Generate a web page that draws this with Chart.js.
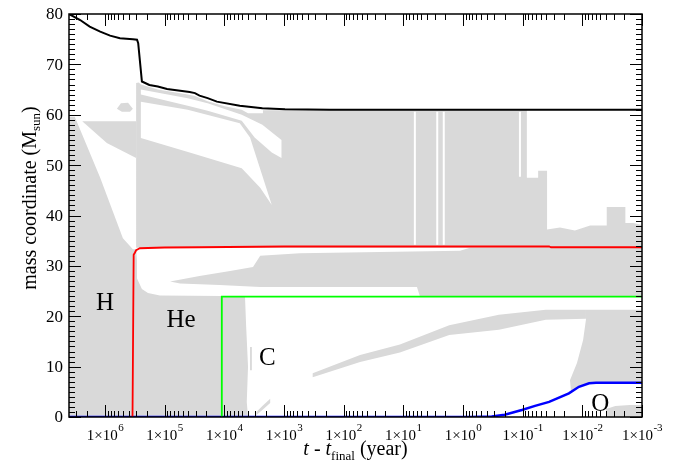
<!DOCTYPE html>
<html>
<head>
<meta charset="utf-8">
<title>Kippenhahn diagram</title>
<script src="https://cdn.jsdelivr.net/npm/chart.js@4.4.1/dist/chart.umd.min.js"></script>
<style>
  html, body { margin: 0; padding: 0; background: #fff; }
  #wrap { width: 689px; height: 466px; position: relative; }
</style>
</head>
<body>
<div id="wrap"><canvas id="kipp"></canvas></div>
<script>
// time until core collapse (years) vs. mass coordinate (Msun)

// boundary curves
const totalMass = [
  [4.0e6, 80.0], [2.6e6, 78.8], [1.8e6, 77.5], [1.2e6, 76.5], [8.2e5, 75.7],
  [5.6e5, 75.2], [3.4e5, 75.0], [2.9e5, 74.9], [2.77e5, 74.2], [2.4e5, 66.6],
  [1.8e5, 65.9], [1.3e5, 65.6], [9.1e4, 65.1], [3.8e4, 64.5], [3.1e4, 64.3],
  [2.6e4, 63.8], [1.9e4, 63.3], [1.33e4, 62.6], [5.5e3, 61.8], [2.3e3, 61.3],
  [960, 61.1], [170, 61.0], [1e-3, 61.0]
];
const heCoreMass = [
  [3.45e5, 0], [3.3e5, 32.2], [3.15e5, 32.6], [3.0e5, 33.1], [2.8e5, 33.3],
  [2.6e5, 33.5], [1.0e5, 33.65], [2.6e4, 33.7], [1.0e3, 33.85], [0.036, 33.85],
  [0.0335, 33.7], [1e-3, 33.7]
];
const coCoreMass = [[1.12e4, 0], [1.1e4, 23.9], [1e-3, 23.9]];
const oCoreMass = [
  [4.0e6, 0], [0.76, 0], [0.33, 0.1], [0.2, 0.45], [0.103, 1.4], [0.062, 2.2],
  [0.036, 3.0], [0.0168, 4.7], [0.0114, 6.0], [0.0077, 6.7], [0.0059, 6.8], [1e-3, 6.8]
];

// convective zones (outlines)
const convCore = [
  [4.0e6, 0], [4.0e6, 59.6], [3.2e6, 59.6], [1.2e6, 47.5], [5.0e5, 35.5], [3.4e5, 33.3],
  [3.0e5, 33.3], [2.9e5, 31.0], [2.9e5, 27.5], [2.4e5, 25.4], [1.9e5, 24.6], [1.2e5, 24.1],
  [1.1e4, 24.0], [1.1e4, 0]
];
const convShelf = [[2.4e6, 58.7], [3.0e5, 58.7], [3.0e5, 51.4], [9.3e5, 54.4]];
const convBlob = [[6.3e5, 61.2], [5.4e5, 62.3], [4.1e5, 62.4], [3.4e5, 61.2], [3.8e5, 60.6], [5.2e5, 60.6]];
const convEnvelope = [
  [3.0e5, 33.6], [3.0e5, 66.3], [2.7e5, 66.4], [2.5e5, 66.0], [1.3e5, 65.0], [4.1e4, 64.0],
  [3.1e4, 63.7], [1.9e4, 62.7], [9.8e3, 61.7], [5.1e3, 61.0], [4.0e3, 60.3], [2.25e3, 60.3],
  [2.25e3, 60.9], [0.085, 60.9], [0.085, 47.5], [0.055, 47.5], [0.055, 48.9], [0.039, 48.9],
  [0.039, 37.2], [0.0237, 37.6], [0.0133, 37.0], [0.0074, 38.0], [0.0039, 38.0], [0.0039, 41.7],
  [0.0019, 41.7], [0.0019, 38.5], [0.0014, 38.5], [1e-3, 38.1], [1e-3, 33.6]
];
const convBand = [
  [8.1e4, 26.9], [2.6e4, 28.0], [8.0e3, 29.0], [3.3e3, 29.8], [2.5e3, 32.0], [540, 32.5],
  [1.12, 33.0], [0.76, 33.6], [1e-3, 33.6], [1e-3, 24.0], [5.3, 24.0], [5.9, 25.8],
  [2.5e3, 25.8], [1.2e4, 26.2], [5.5e4, 26.5]
];
const convCarbon = [[1.12e4, 0], [1.1e4, 24.0], [4.5e3, 24.0], [4.3e3, 18.0], [4.0e3, 10.0], [4.2e3, 3.0], [4.0e3, 0]];
const convCarbonBits = [[3.7e3, 9.3], [3.45e3, 9.3], [3.45e3, 13.9], [3.7e3, 13.9]];
const convCarbonTail = [[2.9e3, 0.4], [2.3e3, 1.4], [1.7e3, 2.8], [1.7e3, 3.6], [2.3e3, 2.2], [2.9e3, 1.0]];
const convShell = [
  [330, 7.9], [53, 10.9], [11.4, 12.8], [1.7, 16.3], [0.25, 17.3], [0.041, 19.3], [0.0087, 19.5],
  [0.0087, 21.3], [0.041, 21.3], [0.25, 20.3], [1.7, 18.2], [11.4, 14.4], [53, 12.3], [330, 8.7]
];
const convOShell = [
  [0.0087, 21.3], [1e-3, 21.3], [1e-3, 6.9], [0.0059, 6.9], [0.0077, 6.7], [0.0114, 6.0],
  [0.0155, 5.2], [0.0161, 7.3], [0.0123, 10.7], [0.0097, 15.3], [0.0087, 19.3]
];
const convOCore = [[0.0040, 0], [0.0040, 1.6], [0.0028, 2.2], [0.0016, 2.4], [1e-3, 2.4], [1e-3, 0]];

// radiative gaps cut into the envelope
const radGapUpper = [
  [2.5e5, 65.0], [4.1e4, 63.3], [1.9e4, 62.3], [5.1e3, 60.0], [2.3e3, 58.0], [1.1e3, 55.0],
  [1.1e3, 51.4], [1.6e3, 52.5], [3.1e3, 55.5], [5.1e3, 58.8], [1.9e4, 60.8], [4.1e4, 61.8], [2.5e5, 64.0]
];
const radGapLower = [
  [2.5e5, 62.6], [4.1e4, 61.0], [5.5e3, 58.3], [3.7e3, 55.5], [1.6e3, 42.1], [2.5e3, 45.5],
  [5.1e3, 49.4], [3.8e4, 52.5], [2.5e5, 55.4]
];
const slitTimes = [6.4, 2.7, 2.1, 0.111];
const slitTops = [60.6, 60.6, 60.6, 60.6];
const slitBottoms = [34.2, 34.2, 34.2, 47.7];

// axes
const xMin = 1e-3, xMax = 4e6;
const xMajorTicks = [1e6, 1e5, 1e4, 1e3, 1e2, 1e1, 1e0, 1e-1, 1e-2, 1e-3];
const xMajorExp = ['6', '5', '4', '3', '2', '1', '0', '-1', '-2', '-3'];
const yMajorTicks = [0, 10, 20, 30, 40, 50, 60, 70, 80];

const regionLabels = [
  { text: 'H', t: 1.0e6, m: 21.3 },
  { text: 'He', t: 5.3e4, m: 17.9 },
  { text: 'C', t: 1.9e3, m: 10.3 },
  { text: 'O', t: 5.0e-3, m: 1.2 }
];

const GREY = '#d9d9d9';
const SERIF = '"Liberation Serif", "Times New Roman", serif';

const pts = arr => arr.map(([x, y]) => ({ x, y }));

function zone(outline, color, order) {
  // borderDash keeps the exact path (no pixel-merging fast path)
  return { data: pts(outline), backgroundColor: color, borderWidth: 0, borderDash: [4, 0],
           fill: 'shape', pointRadius: 0, order };
}
function curve(line, color, width) {
  return { data: pts(line), borderColor: color, borderWidth: width, fill: false,
           pointRadius: 0, order: 0 };
}

const datasets = [
  curve(totalMass, '#000000', 2),
  curve(heCoreMass, '#ff0000', 1.8),
  curve(coCoreMass, '#00ff00', 1.8),
  curve(oCoreMass, '#0000ff', 2.5),
  zone(radGapUpper, '#ffffff', 1),
  zone(radGapLower, '#ffffff', 1)
];
slitTimes.forEach((t, i) => {
  datasets.push({ data: pts([[t, slitTops[i]], [t, slitBottoms[i]]]), borderColor: '#ffffff',
                  borderWidth: 2, fill: false, pointRadius: 0, order: 1 });
});
[convCore, convShelf, convBlob, convEnvelope, convBand, convCarbon, convCarbonBits,
 convCarbonTail, convShell, convOShell, convOCore].forEach(z => datasets.push(zone(z, GREY, 2)));

// minor tick positions
const xMinorTicks = [];
for (let e = -3; e <= 6; e++) {
  for (let k = 2; k <= 9; k++) {
    const v = k * Math.pow(10, e);
    if (v < xMax) xMinorTicks.push(v);
  }
}
const yMinorTicks = [];
for (let v = 1; v < 80; v++) if (v % 10) yMinorTicks.push(v);

const frameAndLabels = {
  id: 'frameAndLabels',
  afterDatasetsDraw(chart) {
    const { ctx, chartArea: a, scales: { x, y } } = chart;
    ctx.save();
    ctx.strokeStyle = '#000';
    ctx.lineWidth = 1;

    // inward ticks on all four sides
    ctx.beginPath();
    const xTick = (v, len) => {
      const px = Math.round(x.getPixelForValue(v)) + 0.5;
      ctx.moveTo(px, a.bottom); ctx.lineTo(px, a.bottom - len);
      ctx.moveTo(px, a.top); ctx.lineTo(px, a.top + len);
    };
    const yTick = (v, len) => {
      const py = Math.round(y.getPixelForValue(v)) + 0.5;
      ctx.moveTo(a.left, py); ctx.lineTo(a.left + len, py);
      ctx.moveTo(a.right, py); ctx.lineTo(a.right - len, py);
    };
    xMajorTicks.forEach(v => xTick(v, 12));
    xMinorTicks.forEach(v => xTick(v, 6));
    yMajorTicks.forEach(v => yTick(v, 12));
    yMinorTicks.forEach(v => yTick(v, 6));
    ctx.stroke();

    ctx.lineWidth = 1.5;
    ctx.strokeRect(a.left, a.top, a.right - a.left, a.bottom - a.top);

    ctx.fillStyle = '#000';

    // y tick labels
    ctx.font = '17px ' + SERIF;
    ctx.textAlign = 'right';
    ctx.textBaseline = 'middle';
    yMajorTicks.forEach(v => ctx.fillText(String(v), a.left - 6, y.getPixelForValue(v) + 1));

    // x tick labels: 1x10^n
    const baseFont = '15px ' + SERIF, supFont = '11px ' + SERIF;
    ctx.textAlign = 'left';
    ctx.textBaseline = 'alphabetic';
    xMajorTicks.forEach((v, i) => {
      const base = '1\u00d710', exp = xMajorExp[i];
      ctx.font = baseFont; const wb = ctx.measureText(base).width;
      ctx.font = supFont; const ws = ctx.measureText(exp).width;
      const x0 = x.getPixelForValue(v) - (wb + ws) / 2;
      ctx.font = baseFont; ctx.fillText(base, x0, a.bottom + 23);
      ctx.font = supFont; ctx.fillText(exp, x0 + wb + 0.5, a.bottom + 14);
    });

    // draws a run of [text, font, baseline shift] pieces centred on cx
    const drawRun = (parts, cx, by) => {
      let w = 0;
      parts.forEach(p => { ctx.font = p[1]; w += ctx.measureText(p[0]).width; });
      let cur = cx - w / 2;
      parts.forEach(p => { ctx.font = p[1]; ctx.fillText(p[0], cur, by + p[2]); cur += ctx.measureText(p[0]).width; });
    };
    const main = '20px ' + SERIF, ital = 'italic 20px ' + SERIF, sub = '13px ' + SERIF;

    // x axis title
    drawRun([['t', ital, 0], [' - ', main, 0], ['t', ital, 0], ['final', sub, 5], [' (year)', main, 0]],
            (a.left + a.right) / 2, a.bottom + 38);

    // y axis title
    ctx.save();
    ctx.translate(36, 198);
    ctx.rotate(-Math.PI / 2);
    drawRun([['mass coordinate (M', main, 0], ['sun', sub, 4], [')', main, 0]], 0, 0);
    ctx.restore();

    // burning zone labels
    ctx.font = '25px ' + SERIF;
    ctx.textAlign = 'center';
    regionLabels.forEach(l => ctx.fillText(l.text, x.getPixelForValue(l.t), y.getPixelForValue(l.m)));

    ctx.restore();
  }
};

new Chart(document.getElementById('kipp'), {
  type: 'line',
  data: { datasets },
  options: {
    responsive: true,
    maintainAspectRatio: false,
    animation: false,
    events: [],
    layout: { padding: { left: 69, right: 47, top: 14, bottom: 49 } },
    plugins: { legend: { display: false }, tooltip: { enabled: false } },
    scales: {
      x: { type: 'logarithmic', min: xMin, max: xMax, reverse: true, display: false },
      y: { type: 'linear', min: 0, max: 80, display: false }
    }
  },
  plugins: [frameAndLabels]
});
</script>
</body>
</html>
